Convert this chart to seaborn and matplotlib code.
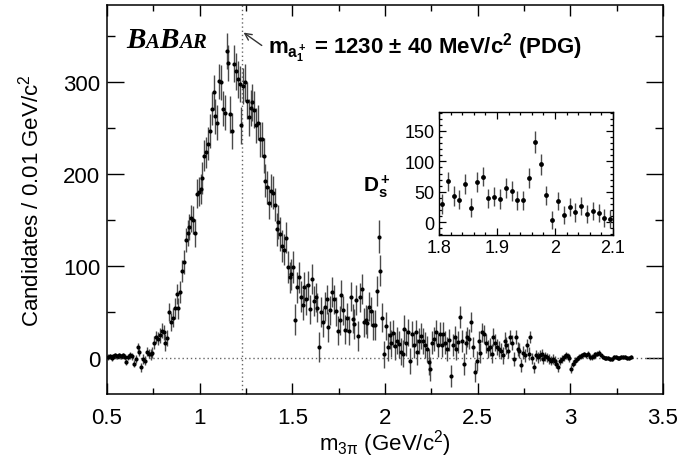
import numpy as np
import pandas as pd
import matplotlib
matplotlib.use("Agg")
import matplotlib.pyplot as plt
import seaborn as sns
from matplotlib.offsetbox import TextArea, HPacker, AnchoredOffsetbox
from matplotlib.ticker import MultipleLocator, FuncFormatter

# ---------------- data ----------------
bin_start = 0.50
bin_width = 0.01

counts = [
    1, 2, 0, 2, 3, 2, 3, 2, 3, 1,              # 0.50
    -4, 1, 3, 2, -6, -1, 12, 7, -10, -1,        # 0.60
    -3, 7, 5, 4, 6, 17, 23, 21, 25, 30,         # 0.70
    28, 17, 22, 50, 39, 44, 54, 70, 54, 72,     # 0.80
    95, 105, 128, 136, 143, 152, 150, 136, 179, 181,   # 0.90
    184, 196, 220, 224, 233, 247, 271, 289, 263, 256,  # 1.00
    301, 300, 271, 267, 334, 321, 265, 247, 320, 312,  # 1.10
    303, 298, 253, 296, 300, 280, 262, 272, 278, 270,  # 1.20
    253, 256, 238, 238, 220, 193, 186, 169, 182, 180,  # 1.30
    167, 140, 148, 135, 122, 118, 131, 99, 88, 91,     # 1.40
    99, 42, 77, 88, 67, 58, 77, 64, 79, 53,     # 1.50
    86, 62, 66, 55, 12, 50, 39, 56, 64, 34,     # 1.60
    52, 72, 64, 51, 30, 41, 69, 52, 31, 44,     # 1.70
    30, 67, 43, 37, 63, 24, 66, 75, 39, 42,     # 1.80
    38, 56, 51, 36, 36, 73, 132, 95, 44, 4,     # 1.90
    35, 12, 25, 16, 27, 13, 19, 15, 7, 5,       # 2.00
    32, 17, 28, -3, 26, 14, 28, 7, 19, 24,      # 2.10
    19, 14, 10, -4, -12, 17, 21, 28, 14, 26,    # 2.20
    14, 26, 17, 10, 20, -19, 14, 23, 10, 18,    # 2.30
    45, 19, -6, 17, 23, 21, 39, 12, -15, -3,    # 2.40
    19, 6, 28, 26, 16, 10, 12, 5, 23, 17,       # 2.50
    12, 10, 8, 3, 19, 14, 8, 23, 17, -1,        # 2.60
    23, 10, 8, -8, 6, 3, 14, 5, 23, 0,          # 2.70
    -10, 3, 1, 3, 4, -1, 2, 1, -1, -3,          # 2.80
    -1, -3, -6, -10, -3, -1, 1, 3, 2, 0,        # 2.90
    -12, -6, -3, -1, 1, 2, 3, 4, 3, 5,          # 3.00
    1, 1, 2, 4, 5, 6, 3, 1, 0, 0,               # 3.10
    0, -1, -1, 1, 1, 0, 0, 1, 1, 1,             # 3.20
    0, 0, 1,                                    # 3.30
]

errors = [
    3, 3, 3, 3, 3, 3, 3, 3, 3, 3,
    3, 3, 4, 4, 4, 4, 5, 5, 5, 5,
    5, 5, 5, 6, 6, 7, 7, 7, 8, 8,
    8, 9, 9, 10, 10, 10, 11, 11, 11, 12,
    12, 13, 13, 14, 14, 15, 15, 15, 16, 16,
    16, 17, 17, 17, 18, 18, 18, 19, 19, 19,
    19, 19, 19, 19, 20, 20, 20, 20, 20, 20,
    20, 20, 20, 20, 20, 20, 20, 20, 20, 20,
    19, 19, 19, 19, 19, 18, 18, 18, 18, 18,
    18, 18, 18, 18, 17, 17, 17, 17, 17, 17,
    17, 17, 17, 17, 17, 17, 17, 17, 16, 16,
    16, 16, 16, 16, 16, 16, 16, 16, 16, 16,
    16, 16, 16, 16, 16, 16, 16, 16, 16, 16,
    16, 16, 16, 16, 16, 16, 16, 16, 16, 16,
    16, 16, 16, 16, 16, 16, 18, 17, 16, 15,
    15, 15, 15, 15, 15, 15, 15, 15, 15, 15,
    15, 15, 15, 14, 14, 14, 14, 14, 14, 14,
    14, 14, 14, 14, 13, 13, 13, 13, 13, 13,
    13, 13, 13, 13, 12, 12, 12, 12, 12, 12,
    12, 12, 12, 12, 11, 11, 11, 11, 11, 11,
    11, 11, 10, 10, 10, 10, 10, 10, 10, 9,
    9, 9, 9, 9, 9, 9, 8, 8, 8, 8,
    8, 8, 8, 7, 7, 7, 7, 7, 7, 6,
    6, 6, 6, 6, 6, 5, 5, 5, 5, 5,
    5, 5, 5, 5, 4, 4, 4, 4, 4, 4,
    4, 4, 4, 3, 3, 3, 3, 3, 3, 3,
    3, 3, 3, 3, 3, 3, 2, 2, 2, 2,
    2, 2, 2, 2, 2, 2, 2, 2, 2, 2,
    2, 2, 2,
]

a1_mass = 1.23
main_xticks = [0.5, 1, 1.5, 2, 2.5, 3, 3.5]
main_yticks = [0, 100, 200, 300]
inset_xticks = [1.8, 1.9, 2.0, 2.1]
inset_yticks = [0, 50, 100, 150]

mass = np.round(bin_start + bin_width * (np.arange(len(counts)) + 0.5), 4)
df = pd.DataFrame({"mass": mass, "counts": counts, "err": errors})

# ---------------- style ----------------
sns.set_theme(style="ticks")
plt.rcParams["font.family"] = ["Liberation Sans", "DejaVu Sans"]
plt.rcParams["mathtext.fontset"] = "custom"
plt.rcParams["mathtext.rm"] = "Liberation Sans"
plt.rcParams["mathtext.it"] = "Liberation Sans:italic"
plt.rcParams["mathtext.bf"] = "Liberation Sans:bold"
plt.rcParams["axes.linewidth"] = 1.1

fmt = FuncFormatter(lambda v, p: "%g" % v)

fig = plt.figure(figsize=(6.81, 4.60), dpi=100)
fig.patch.set_facecolor("white")
W, H = 681, 460
ax = fig.add_axes([107 / W, 1 - 395 / H, 556 / W, 389 / H])
ax.set_facecolor("white")

ax.axhline(0, color="#666666", ls=(0, (1, 2)), lw=1.0, zorder=1)
ax.axvline(a1_mass, color="#666666", ls=(0, (1, 2)), lw=1.0, zorder=1)

ax.errorbar(df["mass"], df["counts"], yerr=df["err"], fmt="none",
            ecolor="#4a4a4a", elinewidth=1.0, capsize=0, zorder=2)
sns.scatterplot(data=df, x="mass", y="counts", ax=ax, color="black",
                s=9, linewidth=0, zorder=3, legend=False)

ax.set_xlim(0.5, 3.5)
ax.set_ylim(-39, 384)
ax.set_xticks(main_xticks)
ax.set_yticks(main_yticks)
ax.xaxis.set_major_formatter(fmt)
ax.xaxis.set_minor_locator(MultipleLocator(0.25))
ax.yaxis.set_minor_locator(MultipleLocator(50))
ax.tick_params(which="both", direction="in", top=True, right=True,
               color="black", width=1.0, labelsize=16, labelcolor="black")
ax.tick_params(axis="x", which="major", length=8, pad=9)
ax.tick_params(axis="x", which="minor", length=4)
ax.tick_params(axis="y", which="major", length=12, pad=5)
ax.tick_params(axis="y", which="minor", length=6)
for s in ax.spines.values():
    s.set_color("black")

ax.set_xlabel("m$_{\\mathrm{3π}}$ (GeV/c$^2$)", fontsize=16, color="black")
ax.set_ylabel(r"Candidates / 0.01 GeV/c$^2$", fontsize=16, color="black")
ax.xaxis.set_label_coords(0.5, -0.085)
ax.yaxis.set_label_coords(-0.115, 0.5)

# annotation with arrow
ax.annotate("", xy=(1.237, 354), xytext=(1.335, 340),
            arrowprops=dict(arrowstyle="->", lw=1.0, color="#333333",
                            shrinkA=0, shrinkB=0))
ax.text(1.37, 332, r"$\mathbf{m_{a_1^+}}$ = 1230 ± 40 MeV/c$^{\mathbf{2}}$ (PDG)",
        fontsize=16, fontweight="bold", va="baseline", ha="left", color="black")

ax.text(1.88, 182, r"$\mathbf{D_s^+}$", fontsize=15, va="baseline", ha="left",
        color="black")

# BABAR logo
big = dict(fontfamily="Liberation Serif", fontstyle="italic", fontweight="bold",
           fontsize=21, color="black")
small = dict(big, fontsize=15)
parts = [TextArea("B", textprops=big), TextArea("A", textprops=small),
         TextArea("B", textprops=big), TextArea("AR", textprops=small)]
pack = HPacker(children=parts, align="baseline", pad=0, sep=0)
anch = AnchoredOffsetbox(loc="lower left", child=pack, frameon=False, pad=0,
                         borderpad=0, bbox_to_anchor=(126 / W, 1 - 54 / H),
                         bbox_transform=fig.transFigure)
fig.add_artist(anch)

# ---------------- inset ----------------
axin = fig.add_axes([439 / W, 1 - 236 / H, 174 / W, 123 / H])
axin.set_facecolor("white")
sub = df[(df["mass"] > 1.8) & (df["mass"] < 2.1)]
axin.errorbar(sub["mass"], sub["counts"], yerr=sub["err"], fmt="none",
              ecolor="#4a4a4a", elinewidth=1.0, capsize=0, zorder=2)
sns.scatterplot(data=sub, x="mass", y="counts", ax=axin, color="black",
                s=12, linewidth=0, zorder=3, legend=False)
axin.set_xlim(1.8, 2.1)
axin.set_ylim(-21, 181)
axin.set_xticks(inset_xticks)
axin.set_yticks(inset_yticks)
axin.xaxis.set_major_formatter(fmt)
axin.xaxis.set_minor_locator(MultipleLocator(0.02))
axin.yaxis.set_minor_locator(MultipleLocator(10))
axin.tick_params(which="both", direction="in", top=True, right=True,
                 color="black", width=0.9, labelsize=13, labelcolor="black")
axin.tick_params(which="major", length=5, pad=3)
axin.tick_params(which="minor", length=2.5)
axin.set_xlabel("")
axin.set_ylabel("")
for s in axin.spines.values():
    s.set_color("black")
    s.set_linewidth(1.0)

fig.savefig("out.png", dpi=100, facecolor="white")
